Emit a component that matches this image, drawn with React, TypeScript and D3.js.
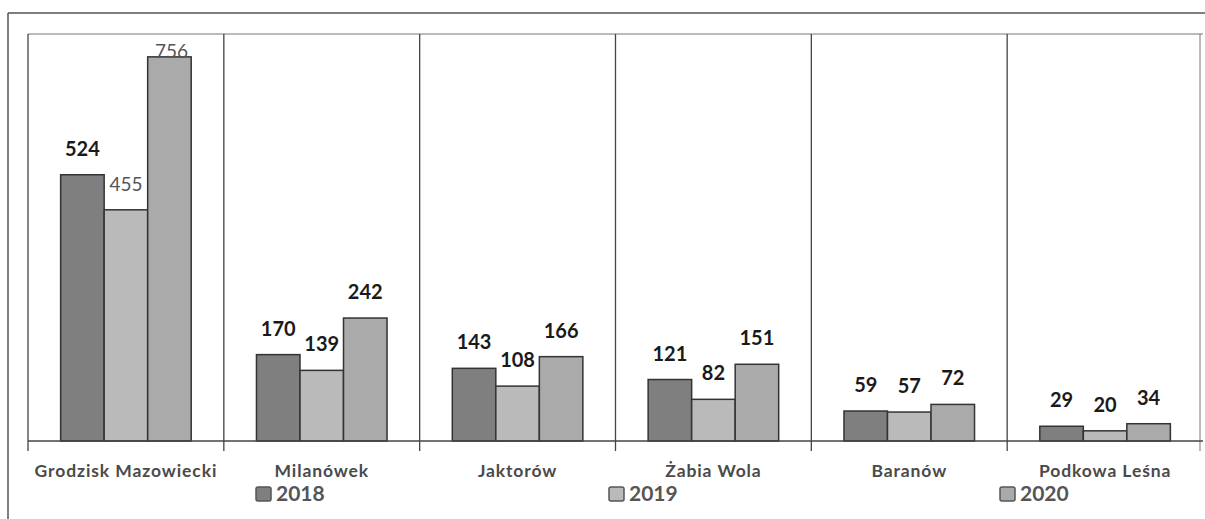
import React from "react";
import * as d3 from "d3";

const categories = ["Grodzisk Mazowiecki", "Milanówek", "Jaktorów", "Żabia Wola", "Baranów", "Podkowa Leśna"];
const seriesNames = ["2018", "2019", "2020"];
const values2018 = [524, 170, 143, 121, 59, 29];
const values2019 = [455, 139, 108, 82, 57, 20];
const values2020 = [756, 242, 166, 151, 72, 34];
const series = [values2018, values2019, values2020];
const colors = ["#7f7f7f", "#bababa", "#aaaaaa"];

const W = 1205, H = 519;
const plot = { left: 28, right: 1203, top: 34, bottom: 441 };
const font = "Lato, 'Open Sans', sans-serif";

export default function App() {
  const x = d3.scaleBand<string>().domain(categories).range([plot.left, plot.right]).paddingInner(0).paddingOuter(0);
  const xi = d3.scaleBand<string>().domain(seriesNames).range([0, x.bandwidth()]).paddingInner(0).paddingOuter(0.75);
  const y = d3.scaleLinear().domain([0, 801]).range([plot.bottom, plot.top]);
  const legendX = [256, 609, 1000];

  return (
    <svg width={W} height={H} style={{ position: "absolute", left: 0, top: 0, background: "#fff" }}>
      <rect x={0} y={0} width={W} height={H} fill="#fff" />
      {/* outer frame */}
      <line x1={8} y1={13} x2={W} y2={13} stroke="#555" strokeWidth={1.5} />
      <line x1={8} y1={13} x2={8} y2={H} stroke="#555" strokeWidth={1.5} />
      {/* plot top */}
      <line x1={plot.left} y1={plot.top} x2={plot.right} y2={plot.top} stroke="#777" strokeWidth={1} />
      {/* dividers */}
      {categories.map((c, i) => (
        <line key={"d" + i} x1={x(c)!} x2={x(c)!} y1={plot.top} y2={plot.bottom + 10} stroke="#444" strokeWidth={1.3} />
      ))}
      <line x1={plot.right - 3} x2={plot.right - 3} y1={plot.top} y2={plot.bottom + 10} stroke="#777" strokeWidth={1} />
      {/* bars */}
      {categories.map((c, i) =>
        seriesNames.map((s, j) => {
          const v = series[j][i];
          const bx = x(c)! + xi(s)!;
          const by = y(v);
          return (
            <rect key={c + s} x={bx} y={by} width={xi.bandwidth()} height={plot.bottom - by}
              fill={colors[j]} stroke="#333" strokeWidth={1.5} />
          );
        })
      )}
      {/* baseline */}
      <line x1={plot.left} x2={plot.right} y1={plot.bottom} y2={plot.bottom} stroke="#444" strokeWidth={1.5} />
      {/* value labels */}
      {categories.map((c, i) =>
        seriesNames.map((s, j) => {
          const v = series[j][i];
          const cx = x(c)! + xi(s)! + xi.bandwidth() / 2;
          const light = i === 0 && j > 0;
          const above = y(v) - 19;
          const ty = above - 15 < plot.top ? y(v) + 1 : above;
          return (
            <text key={"l" + c + s} x={cx + (light && j === 2 ? 2 : 0)} y={ty} textAnchor="middle" fontFamily={font}
              fontSize={light ? 19 : 20} fontWeight={light ? 400 : 700} fill={light ? "#555" : "#1a1a1a"}>
              {v}
            </text>
          );
        })
      )}
      {/* category labels */}
      {categories.map((c) => (
        <text key={"c" + c} x={x(c)! + x.bandwidth() / 2} y={477} textAnchor="middle" fontFamily={font}
          fontSize={17.5} fontWeight={700} letterSpacing={0.9} fill="#4a4a4a">
          {c}
        </text>
      ))}
      {/* legend */}
      {seriesNames.map((s, j) => (
        <g key={"lg" + s}>
          <rect x={legendX[j]} y={487} width={15} height={14} rx={2} fill={colors[j]} stroke="#555" strokeWidth={1.5} />
          <text x={legendX[j] + 20} y={501} fontFamily={font} fontSize={21} fontWeight={700} fill="#555">{s}</text>
        </g>
      ))}
    </svg>
  );
}
